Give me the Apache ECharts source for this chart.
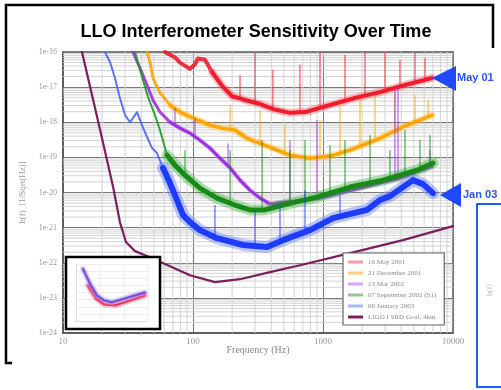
<!DOCTYPE html>
<html><head><meta charset="utf-8">
<script src="https://cdn.jsdelivr.net/npm/echarts@6/dist/echarts.min.js"></script>
<style>html,body{margin:0;padding:0;background:#fff}#c{width:501px;height:390px}</style>
</head><body><div id="c"></div>
<script>
// ---------- data (frequency Hz, strain 1/sqrt(Hz)) ----------
const xTickLabels = ['10', '100', '1000', '10000'];
const yTickLabels = ['1e-24', '1e-23', '1e-22', '1e-21', '1e-20', '1e-19', '1e-18', '1e-17', '1e-16'];
const legendNames = ['16 May 2001', '21 December 2001', '13 Mar 2002', '07 September 2002 (S1)', '06 January 2003', 'LIGO I SRD Goal, 4km'];

const may01 = [[60.9,1e-16],[72.7,7.0e-17],[79.4,5.0e-17],[94.8,3.3e-17],[103.6,4.5e-17],[109,6.5e-17],[123.6,6.0e-17],[140,2.7e-17],[167,1.1e-17],[200,5.5e-18],[230,4.8e-18],[251,4.3e-18],[328,3.3e-18],[427,2.3e-18],[557,1.85e-18],[727,1.95e-18],[1132,3.1e-18],[1762,4.9e-18],[2742,7.2e-18],[4274,1.15e-17],[6890,1.82e-17]];
const may01Spikes = [[230,4.8e-18,2.2e-17],[300,3.6e-18,1e-16],[412,2.3e-18,3.1e-17],[665,1.9e-18,4.3e-17],[948,2.6e-18,1e-16],[1476,4.0e-18,8.2e-17],[2104,5.8e-18,1e-16],[3000,7.8e-18,1e-16],[3908,1.05e-17,5.9e-17],[5102,1.3e-17,1e-16],[6094,1.6e-17,6.7e-17]];

const dec01 = [[44.3,1e-16],[46.7,5.2e-17],[49.2,1.82e-17],[55.7,7.0e-18],[66.5,3.1e-18],[79.4,1.95e-18],[100,1.32e-18],[135,8.3e-19],[167,6.8e-19],[210,6.0e-19],[260,3.5e-19],[371,2.1e-19],[557,1.16e-19],[794,9.5e-20],[1132,1.09e-19],[1614,1.61e-19],[2742,3.5e-19],[4274,7.8e-19],[6890,1.6e-18]];
const dec01Spikes = [[193,6.1e-19,3.1e-18],[328,2.5e-19,2.2e-18],[510,1.3e-19,8.3e-19],[948,1.0e-19,1.16e-18],[1352,1.3e-19,3.1e-18],[1927,2.2e-19,4.3e-18],[2512,3.0e-19,6.0e-18],[3577,5.5e-19,7.2e-18],[5102,1.0e-18,6.0e-18],[6427,1.4e-18,4.3e-18]];

const mar02 = [[34.5,1e-16],[39.1,3.5e-17],[44.3,1.15e-17],[49.2,4.3e-18],[55.7,1.95e-18],[66.5,1.01e-18],[79.4,6.8e-19],[94.8,4.9e-19],[113,3.1e-19],[135,1.84e-19],[161,9.5e-20],[193,5.0e-20],[230,2.25e-20],[274,1.17e-20],[328,6.9e-21],[391,4.7e-21],[948,6.9e-21],[1927,1.33e-20],[3908,2.6e-20],[6890,5.6e-20]];
const mar02Spikes = [[72.7,8e-19,2.5e-18],[103.6,4e-19,1.32e-18],[186,5.5e-20,2.5e-19],[557,6.0e-21,3.1e-19],[899,7.5e-21,1.16e-18],[3577,2.8e-20,8.3e-18],[3775,3.0e-20,1e-17],[6652,5e-20,1.6e-19]];

const sep02 = [[35.8,1e-16],[39.1,3.1e-17],[45.1,5.2e-18],[51.0,1.6e-18],[55.7,6.0e-19],[63.1,1.16e-19],[72.7,6.0e-20],[86.8,3.1e-20],[113,1.33e-20],[153,6.9e-21],[210,4.4e-21],[274,3.2e-21],[358,3.2e-21],[492,4.4e-21],[899,7.4e-21],[1614,1.43e-20],[2895,2.25e-20],[5284,4.3e-20],[7016,6.9e-20]];
const sep02Spikes = [[86.8,3.1e-20,1.6e-19],[193,5e-21,1.6e-19],[340,3.2e-21,3.1e-19],[557,5e-21,1.6e-19],[727,6e-21,3.1e-19],[1132,9e-21,2.2e-19],[1476,1.3e-20,3.1e-19],[2301,2e-20,4.3e-19],[3275,2.3e-20,1.6e-19],[4274,3.4e-20,6e-19],[5572,4.5e-20,3.1e-19],[6652,6e-20,4.3e-19]];

const jan03 = [[21.0,1e-16],[23.0,5.2e-17],[25.1,1.82e-17],[27.4,4.9e-18],[30.0,1.6e-18],[32.8,1.0e-18],[37.1,1.95e-18],[40.5,8.3e-19],[44.3,3.8e-19],[48.4,1.84e-19],[52.8,1.33e-19],[58.8,5.0e-20],[66.5,1.85e-20],[75.3,6.1e-21],[83.8,2.27e-21],[94.8,1.44e-21],[113,8.5e-22],[153,5.0e-22],[243,3.2e-22],[371,2.8e-22],[492,4.4e-22],[794,8.5e-22],[1194,1.87e-21],[2179,3.2e-21],[2742,6.1e-21],[3275,7.9e-21],[4921,2.25e-20],[5875,1.73e-20],[7016,9.6e-21]];
const jan03Spikes = [[147.6,5.2e-22,4.4e-21],[300,3e-22,3.2e-21],[467,4e-22,4.4e-21],[727,7.5e-22,1.17e-20],[1352,2e-21,8.4e-21]];

const srdGoal = [[14.0,1e-16],[19.3,6.0e-19],[24.3,1.43e-20],[27.4,1.44e-21],[30.5,3.9e-22],[35.8,2.14e-22],[46.7,1.44e-22],[66.5,8.0e-23],[94.8,4.4e-23],[147.6,2.8e-23],[230,3.4e-23],[391,5.4e-23],[665,8.5e-23],[1614,1.88e-22],[4121,4.4e-22],[10000,1.1e-21]];

// inset (small faded copy of a plot)
const insetBlue = [[19.6,2.0e-17],[38.3,1.7e-19],[75,3.9e-21],[147,7.9e-22],[316,4.2e-22],[1100,1.5e-21],[3800,5.3e-21],[7500,1e-20]];
const insetRed = [[31.6,9.3e-20],[68,1.5e-21],[147,2.2e-22],[422,1.6e-22],[1778,7.9e-22],[7500,3.9e-21]];

// ---------- chart ----------
const chart = echarts.init(document.getElementById('c'), null, {renderer: 'canvas'});
const SERIF = 'Liberation Serif, DejaVu Serif, serif';
const SANS = 'Liberation Sans, Arial, sans-serif';
const X_MIN = 10, X_MAX = 10000, Y_MIN = 1e-24, Y_MAX = 1e-16;

const minorX = [], minorY = [];
for (let e = 1; e <= 3; e++) for (let k = 2; k <= 9; k++) minorX.push(k * Math.pow(10, e));
for (let e = -24; e <= -17; e++) for (let k = 2; k <= 9; k++) minorY.push(parseFloat(k + 'e' + e));

function lineS(name, data, color, width, z, opacity, extra) {
  return Object.assign({
    name: name, type: 'line', data: data, showSymbol: false, symbol: 'none',
    lineStyle: {color: color, width: width, opacity: opacity == null ? 1 : opacity, join: 'round', cap: 'round'},
    itemStyle: {color: color}, z: z, animation: false, silent: true
  }, extra || {});
}
const series = [];
minorX.forEach(v => series.push(lineS('minorGrid', [[v, Y_MIN], [v, Y_MAX]], '#d2d2d2', 1, 1, 1, {lineStyle: {color: '#d2d2d2', width: 1, cap: 'butt'}})));
minorY.forEach(v => series.push(lineS('minorGrid', [[X_MIN, v], [X_MAX, v]], '#d2d2d2', 1, 1, 1, {lineStyle: {color: '#d2d2d2', width: 1, cap: 'butt'}})));

function band(name, data, spikes, color, thinColor, halo, splitF, thinW, coreW, haloW, z) {
  let k = data.findIndex(p => p[0] >= splitF);
  if (k < 0) k = data.length - 1;
  const thin = data.slice(0, k + 1);
  const thick = data.slice(k);
  series.push(lineS(name, thin, thinColor, thinW, z, 0.9));
  series.push(lineS(name, thick, halo, haloW, z, 0.4));
  spikes.forEach(s => series.push(lineS(name + ' lines', [[s[0], s[1]], [s[0], s[2]]], color, 1, z, 0.9, {lineStyle: {color: color, width: 1, cap: 'butt', opacity: 0.9}})));
  series.push(lineS(name, thick, color, coreW, z + 0.1, 1));
}
band(legendNames[0], may01, may01Spikes, '#f01c2c', '#f01c2c', '#ff5a6a', 130, 4, 4, 8, 2);
band(legendNames[1], dec01, dec01Spikes, '#ffa500', '#ffa500', '#ffbf40', 60, 3, 3.5, 7, 2.2);
band(legendNames[2], mar02, mar02Spikes, '#9b30e0', '#9b30e0', '#b870f0', 60, 3, 3, 5, 2.4);
band(legendNames[3], sep02, sep02Spikes, '#178a17', '#1f9a1f', '#3aac3a', 56, 2, 5, 11, 2.6);
band(legendNames[4], jan03, jan03Spikes, '#1e3cff', '#4a64ff', '#5b74ff', 55, 2, 6, 12, 2.8);
series.push(lineS(legendNames[5], srdGoal, '#7b1f5e', 2.2, 3));
series.push(lineS('insetRedHalo', insetRed, '#ff9aa8', 6, 7, 0.6, {xAxisIndex: 1, yAxisIndex: 1}));
series.push(lineS('insetRed', insetRed, '#f0204a', 2.5, 7.1, 0.9, {xAxisIndex: 1, yAxisIndex: 1}));
series.push(lineS('insetBlueHalo', insetBlue, '#b8a8f0', 6, 7.2, 0.5, {xAxisIndex: 1, yAxisIndex: 1}));
series.push(lineS('insetBlue', insetBlue, '#6a3ce0', 2.5, 7.3, 0.85, {xAxisIndex: 1, yAxisIndex: 1}));

const legendColors = ['#ff9aa2', '#ffcc80', '#d9a8f2', '#8ccc8c', '#aab8ff', '#7b2060'];
function xFmt(v) { const i = Math.round(Math.log10(Number(v))); return xTickLabels[i - 1] || ''; }
// the bottom label (1e-24) is placed separately below so it is never auto-hidden at the corner
function yFmt(v) { const i = Math.round(Math.log10(Number(v))) + 24; return i === 0 ? '' : (yTickLabels[i] || ''); }

const option = {
  backgroundColor: '#fff',
  animation: false,
  grid: [
    {left: 63, top: 52, width: 390, height: 281, show: true, borderColor: '#555', borderWidth: 1.5,
     containLabel: false, outerBoundsMode: 'none'},
    {left: 76, top: 264, width: 72, height: 57, show: false, containLabel: false, outerBoundsMode: 'none'}
  ],
  xAxis: [
    {type: 'log', logBase: 10, min: X_MIN, max: X_MAX, gridIndex: 0,
     name: 'Frequency (Hz)', nameLocation: 'middle', nameGap: 12, nameMoveOverlap: false,
     nameTextStyle: {fontFamily: SERIF, fontSize: 10, color: '#888'},
     axisLine: {show: true, lineStyle: {color: '#555', width: 1.5}},
     axisTick: {show: false},
     axisLabel: {fontFamily: SERIF, fontSize: 9, color: '#999', margin: 4, formatter: xFmt,
       showMinLabel: true, showMaxLabel: true, hideOverlap: false},
     splitLine: {show: true, lineStyle: {color: '#777', width: 1}}},
    {type: 'log', logBase: 10, min: X_MIN, max: X_MAX, gridIndex: 1, z: 6,
     axisLine: {show: true, lineStyle: {color: '#ddd'}}, axisTick: {show: false}, axisLabel: {show: false},
     splitLine: {show: true, lineStyle: {color: '#eee'}}}
  ],
  yAxis: [
    {type: 'log', logBase: 10, min: Y_MIN, max: Y_MAX, gridIndex: 0,
     name: 'h(f)  [1/Sqrt(Hz)]', nameLocation: 'middle', nameGap: 36, nameRotate: 90, nameMoveOverlap: false,
     nameTextStyle: {fontFamily: SERIF, fontSize: 9, color: '#999'},
     axisLine: {show: true, lineStyle: {color: '#555', width: 1.5}},
     axisTick: {show: false},
     axisLabel: {fontFamily: SERIF, fontSize: 8, color: '#999', margin: 6, formatter: yFmt,
       showMinLabel: true, showMaxLabel: true, hideOverlap: false},
     splitLine: {show: true, lineStyle: {color: '#777', width: 1}}},
    {type: 'log', logBase: 10, min: Y_MIN, max: Y_MAX, gridIndex: 1, z: 6,
     axisLine: {show: true, lineStyle: {color: '#ddd'}}, axisTick: {show: false}, axisLabel: {show: false},
     splitLine: {show: true, lineStyle: {color: '#eee'}}}
  ],
  legend: {
    orient: 'vertical', left: 343, top: 253, z: 8,
    backgroundColor: '#fff', borderColor: '#666', borderWidth: 1.2,
    padding: [5, 8, 4, 5], itemGap: 3, itemWidth: 15, itemHeight: 3, icon: 'rect',
    textStyle: {fontFamily: SERIF, fontSize: 7, color: '#888', lineHeight: 8},
    data: legendNames.map((n, i) => ({name: n, itemStyle: {color: legendColors[i]}}))
  },
  graphic: [
    {type: 'text', z: 10, style: {text: 'LLO Interferometer Sensitivity Over Time', x: 256, y: 32,
      textAlign: 'center', textVerticalAlign: 'middle', fill: '#000', font: 'bold 18px ' + SANS}},
    {type: 'polyline', z: 10, shape: {points: [[493, 48], [493, 5], [6, 5], [6, 363], [12, 363]]},
      style: {stroke: '#000', lineWidth: 2.5, fill: null}},
    {type: 'rect', z: 5, shape: {x: 66, y: 257, width: 94, height: 72},
      style: {fill: '#fff', stroke: '#000', lineWidth: 2.5}},
    {type: 'polygon', z: 10, shape: {points: [[432, 78], [456, 66], [456, 91]]}, style: {fill: '#1f48ff'}},
    {type: 'text', z: 10, style: {text: 'May 01', x: 457, y: 78, textAlign: 'left', textVerticalAlign: 'middle',
      fill: '#2a55f5', font: 'bold 11px ' + SANS}},
    {type: 'polygon', z: 10, shape: {points: [[440, 195], [461, 183], [461, 207]]}, style: {fill: '#1f48ff'}},
    {type: 'text', z: 10, style: {text: 'Jan 03', x: 463, y: 195, textAlign: 'left', textVerticalAlign: 'middle',
      fill: '#2a55f5', font: 'bold 11px ' + SANS}},
    {type: 'rect', z: 10, shape: {x: 477, y: 204, width: 30, height: 183},
      style: {fill: '#fff', stroke: '#1f5aff', lineWidth: 2}},
    {type: 'text', z: 11, rotation: Math.PI / 2, x: 490, y: 290,
      style: {text: 'h(f)', textAlign: 'center', textVerticalAlign: 'middle', fill: '#bbb', font: '8px ' + SERIF}}
  ],
  series: series
};
chart.setOption(option);
// bottom y tick label, positioned through the axis scale
const p0 = chart.convertToPixel({xAxisIndex: 0, yAxisIndex: 0}, [X_MIN, Y_MIN]);
chart.setOption({graphic: option.graphic.concat([
  {type: 'text', z: 10, style: {text: yTickLabels[0], x: p0[0] - 6, y: p0[1], textAlign: 'right', textVerticalAlign: 'middle',
    fill: '#999', font: '8px ' + SERIF}}
])});
</script>
</body></html>
